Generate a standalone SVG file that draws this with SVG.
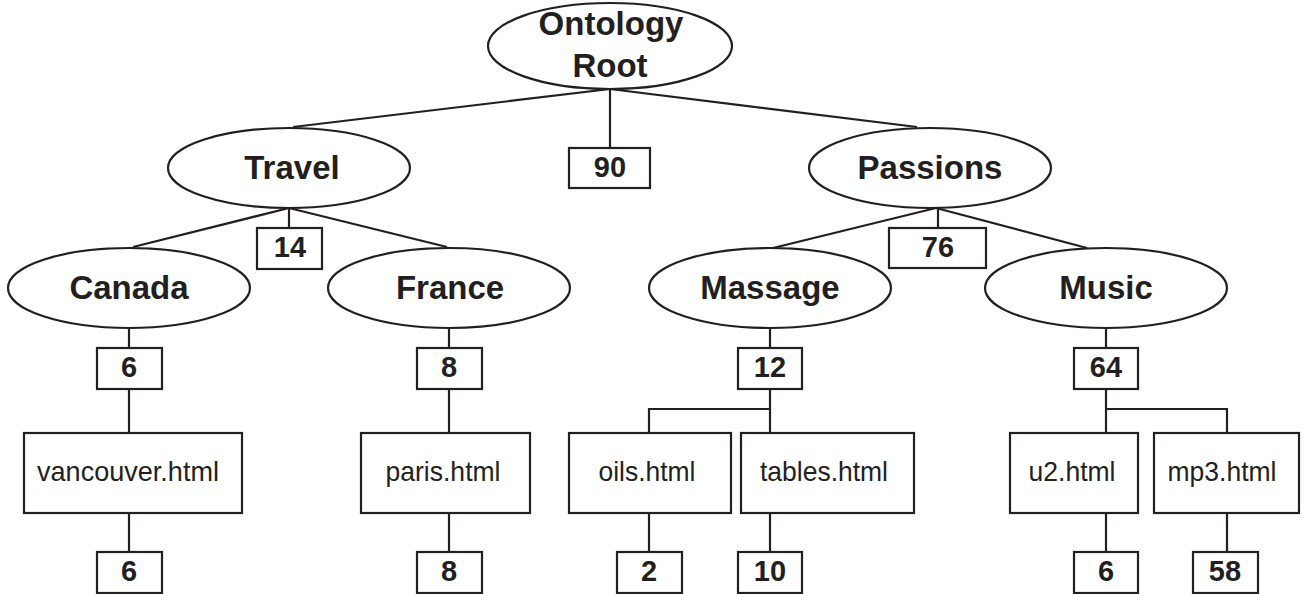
<svg xmlns="http://www.w3.org/2000/svg" width="1305" height="594" viewBox="0 0 1305 594">
<style>
.shape{fill:#fff;stroke:#231f20;stroke-width:2.2}
.conn line,.conn polyline{stroke:#231f20;stroke-width:2.2;fill:none}
.lbl{font-family:"Liberation Sans",Arial,sans-serif;font-weight:bold;font-size:33px;text-anchor:middle;fill:#231f20}
.num{font-family:"Liberation Sans",Arial,sans-serif;font-weight:bold;font-size:29px;text-anchor:middle;fill:#231f20}
.file{font-family:"Liberation Sans",Arial,sans-serif;font-size:28px;text-anchor:middle;fill:#231f20}
</style>
<rect width="1305" height="594" fill="#fff"/>
<g id="connectors" class="conn">
<line x1="610" y1="89" x2="293" y2="127"/>
<line x1="610" y1="89" x2="917" y2="127"/>
<line x1="610" y1="89" x2="610" y2="148"/>
<line x1="289" y1="208" x2="133" y2="247"/>
<line x1="289" y1="208" x2="447" y2="247"/>
<line x1="289" y1="208" x2="289" y2="228"/>
<line x1="936" y1="208" x2="773" y2="248"/>
<line x1="936" y1="208" x2="1087" y2="248"/>
<line x1="938" y1="208" x2="938" y2="228"/>
<line x1="129" y1="328" x2="129" y2="348"/>
<line x1="129" y1="389" x2="129" y2="433"/>
<line x1="129" y1="513" x2="129" y2="552"/>
<line x1="449" y1="328" x2="449" y2="348"/>
<line x1="449" y1="389" x2="449" y2="433"/>
<line x1="449" y1="513" x2="449" y2="552"/>
<line x1="770" y1="328" x2="770" y2="348"/>
<line x1="770" y1="389" x2="770" y2="433"/>
<polyline points="770,409 649,409 649,433"/>
<line x1="649" y1="513" x2="649" y2="552"/>
<line x1="770" y1="513" x2="770" y2="552"/>
<line x1="1106" y1="328" x2="1106" y2="348"/>
<line x1="1106" y1="389" x2="1106" y2="433"/>
<polyline points="1106,409 1227,409 1227,433"/>
<line x1="1106" y1="513" x2="1106" y2="552"/>
<line x1="1227" y1="513" x2="1227" y2="552"/>
</g>
<g id="root"><ellipse class="shape" cx="610" cy="46" rx="122" ry="43"/><text class="lbl" x="611" y="35">Ontology</text><text class="lbl" x="610" y="77">Root</text></g>
<g id="n90"><rect class="shape" x="569" y="148" width="81" height="40"/><text class="num" x="610" y="177">90</text></g>
<g id="travel"><ellipse class="shape" cx="289" cy="168" rx="121" ry="40"/><text class="lbl" x="292" y="179">Travel</text></g>
<g id="n14"><rect class="shape" x="257" y="228" width="65" height="41"/><text class="num" x="290" y="257">14</text></g>
<g id="passions"><ellipse class="shape" cx="930" cy="168" rx="121" ry="40"/><text class="lbl" x="930" y="179">Passions</text></g>
<g id="n76"><rect class="shape" x="889" y="228" width="97" height="40"/><text class="num" x="938" y="257">76</text></g>
<g id="canada"><ellipse class="shape" cx="129" cy="288" rx="121" ry="40"/><text class="lbl" x="129" y="299">Canada</text></g>
<g id="france"><ellipse class="shape" cx="449" cy="288" rx="121" ry="40"/><text class="lbl" x="450" y="299">France</text></g>
<g id="massage"><ellipse class="shape" cx="770" cy="288" rx="121" ry="40"/><text class="lbl" x="770" y="299">Massage</text></g>
<g id="music"><ellipse class="shape" cx="1106" cy="288" rx="121" ry="40"/><text class="lbl" x="1106" y="299">Music</text></g>
<g id="n6a"><rect class="shape" x="97" y="348" width="65" height="41"/><text class="num" x="129" y="377">6</text></g>
<g id="n8a"><rect class="shape" x="417" y="348" width="65" height="41"/><text class="num" x="449" y="377">8</text></g>
<g id="n12"><rect class="shape" x="738" y="348" width="64" height="41"/><text class="num" x="770" y="377">12</text></g>
<g id="n64"><rect class="shape" x="1074" y="348" width="64" height="41"/><text class="num" x="1106" y="377">64</text></g>
<g id="vancouver"><rect class="shape" x="24" y="433" width="218" height="80"/><text class="file" x="128" y="481" textLength="182" lengthAdjust="spacingAndGlyphs">vancouver.html</text></g>
<g id="paris"><rect class="shape" x="361" y="433" width="169" height="80"/><text class="file" x="443" y="481" textLength="115" lengthAdjust="spacingAndGlyphs">paris.html</text></g>
<g id="oils"><rect class="shape" x="569" y="433" width="162" height="80"/><text class="file" x="647" y="481" textLength="97" lengthAdjust="spacingAndGlyphs">oils.html</text></g>
<g id="tables"><rect class="shape" x="741" y="433" width="173" height="80"/><text class="file" x="824" y="481" textLength="128" lengthAdjust="spacingAndGlyphs">tables.html</text></g>
<g id="u2"><rect class="shape" x="1010" y="433" width="128" height="80"/><text class="file" x="1072" y="481" textLength="87" lengthAdjust="spacingAndGlyphs">u2.html</text></g>
<g id="mp3"><rect class="shape" x="1154" y="433" width="145" height="80"/><text class="file" x="1222" y="481" textLength="109" lengthAdjust="spacingAndGlyphs">mp3.html</text></g>
<g id="n6b"><rect class="shape" x="97" y="552" width="65" height="41"/><text class="num" x="129" y="581">6</text></g>
<g id="n8b"><rect class="shape" x="417" y="552" width="65" height="41"/><text class="num" x="449" y="581">8</text></g>
<g id="n2"><rect class="shape" x="617" y="552" width="65" height="41"/><text class="num" x="649" y="581">2</text></g>
<g id="n10"><rect class="shape" x="738" y="552" width="64" height="41"/><text class="num" x="770" y="581">10</text></g>
<g id="n6c"><rect class="shape" x="1074" y="552" width="64" height="41"/><text class="num" x="1106" y="581">6</text></g>
<g id="n58"><rect class="shape" x="1193" y="552" width="65" height="41"/><text class="num" x="1225" y="581">58</text></g>
</svg>
